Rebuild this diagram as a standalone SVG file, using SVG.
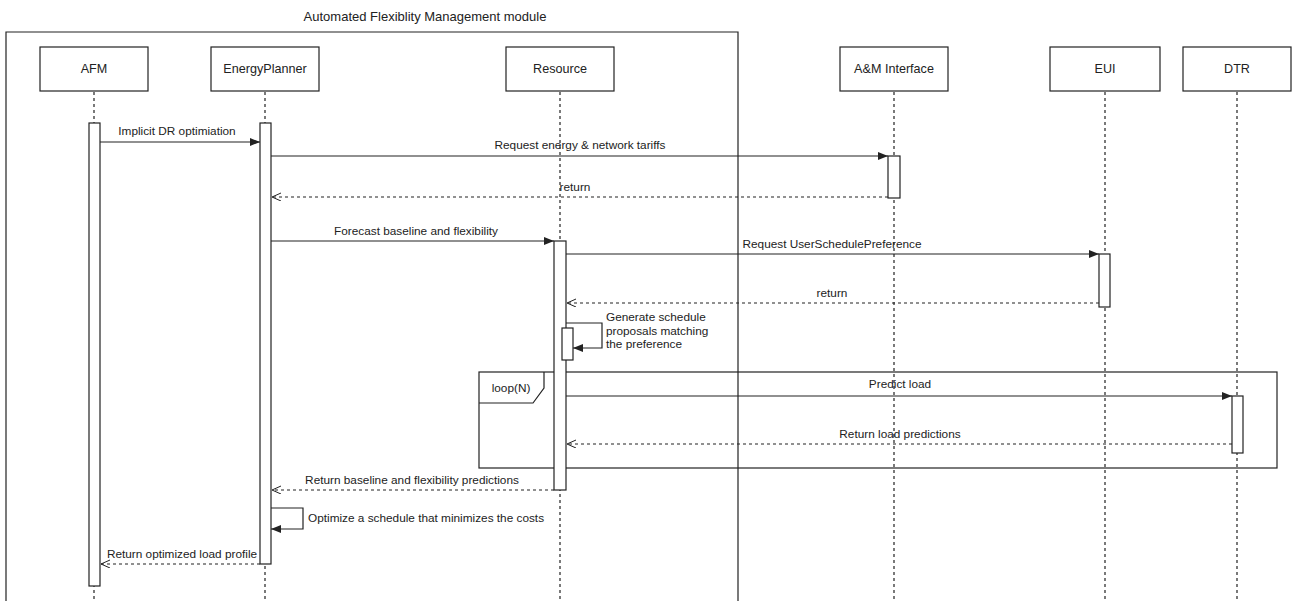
<svg xmlns="http://www.w3.org/2000/svg" width="1295" height="601" viewBox="0 0 1295 601">
  <style>
    text { font-family: "Liberation Sans", Arial, sans-serif; font-size: 11.8px; fill: #222; }
    .hdr text { font-size: 12.6px; }
    .title { font-size: 13px; }
    .box { fill: #fff; stroke: #222; stroke-width: 1.2; }
    .life { stroke: #222; stroke-width: 1.2; stroke-dasharray: 3 3; fill: none; }
    .act { fill: #fff; stroke: #222; stroke-width: 1.2; }
    .frame { fill: none; stroke: #222; stroke-width: 1.2; }
    .msg { fill: none; stroke: #222; stroke-width: 1.2; }
    .call { marker-end: url(#solidHead); }
    .ret { stroke-dasharray: 3 3; marker-end: url(#openHead); }
    .mid { text-anchor: middle; }
  </style>
  <defs>
    <marker id="solidHead" markerUnits="userSpaceOnUse" markerWidth="11" markerHeight="10" refX="10" refY="4" orient="auto">
      <path d="M0,0 L10,4 L0,8 z" fill="#222"/>
    </marker>
    <marker id="openHead" markerUnits="userSpaceOnUse" markerWidth="11" markerHeight="10" refX="9" refY="4" orient="auto">
      <path d="M0,0 L9,4 L0,8" fill="none" stroke="#222" stroke-width="1"/>
    </marker>
  </defs>

  <rect width="1295" height="601" fill="#fff"/>

  <!-- module boundary -->
  <g id="module-frame">
    <text x="425" y="21" class="mid title">Automated Flexiblity Management module</text>
    <path class="frame" d="M6,605 V32 H738 V605"/>
  </g>

  <!-- lifelines -->
  <g id="lifelines">
    <line class="life" x1="94" y1="92" x2="94" y2="601"/>
    <line class="life" x1="265" y1="92" x2="265" y2="601"/>
    <line class="life" x1="560" y1="92" x2="560" y2="601"/>
    <line class="life" x1="894" y1="92" x2="894" y2="601"/>
    <line class="life" x1="1105" y1="92" x2="1105" y2="601"/>
    <line class="life" x1="1237" y1="92" x2="1237" y2="601"/>
  </g>

  <!-- participants -->
  <g class="hdr">
    <g id="afm"><rect class="box" x="40" y="47" width="108" height="44"/><text x="94" y="73" class="mid">AFM</text></g>
    <g id="energy-planner"><rect class="box" x="211" y="47" width="108" height="44"/><text x="265" y="73" class="mid">EnergyPlanner</text></g>
    <g id="resource"><rect class="box" x="506" y="47" width="108" height="44"/><text x="560" y="73" class="mid">Resource</text></g>
    <g id="am-interface"><rect class="box" x="840" y="47" width="108" height="44"/><text x="894" y="73" class="mid">A&amp;M Interface</text></g>
    <g id="eui"><rect class="box" x="1050" y="47" width="110" height="44"/><text x="1105" y="73" class="mid">EUI</text></g>
    <g id="dtr"><rect class="box" x="1183" y="47" width="108" height="44"/><text x="1237" y="73" class="mid">DTR</text></g>
  </g>

  <!-- loop fragment -->
  <g id="loop-fragment">
    <rect class="frame" x="479" y="372" width="798" height="96"/>
    <path class="frame" d="M479,403 H533 L544,388 V372"/>
    <text x="511" y="392" class="mid">loop(N)</text>
  </g>

  <!-- activation bars -->
  <g id="activations">
    <rect class="act" x="89" y="123" width="11" height="463"/>
    <rect class="act" x="260" y="123" width="11" height="441"/>
    <rect class="act" x="888" y="156" width="12" height="42"/>
    <rect class="act" x="554" y="241" width="12" height="249"/>
    <rect class="act" x="1099" y="254" width="11" height="53"/>
    <rect class="act" x="562" y="328" width="11" height="32"/>
    <rect class="act" x="1232" y="396" width="11" height="57"/>
  </g>

  <!-- messages -->
  <g id="connectors">
    <line class="msg call" x1="100" y1="142" x2="260" y2="142"/>
    <line class="msg call" x1="271" y1="156" x2="888" y2="156"/>
    <line class="msg ret" x1="888" y1="197" x2="272" y2="197"/>
    <line class="msg call" x1="271" y1="241" x2="554" y2="241"/>
    <line class="msg call" x1="566" y1="254" x2="1099" y2="254"/>
    <line class="msg ret" x1="1099" y1="303" x2="567" y2="303"/>
    <path class="msg call" d="M566,323 H602 V348 H573"/>
    <line class="msg call" x1="566" y1="396" x2="1232" y2="396"/>
    <line class="msg ret" x1="1232" y1="444" x2="567" y2="444"/>
    <line class="msg ret" x1="554" y1="490" x2="272" y2="490"/>
    <path class="msg call" d="M271,508 H303 V529 H271"/>
    <line class="msg ret" x1="260" y1="564" x2="101" y2="564"/>
  </g>

  <!-- message labels -->
  <g id="labels">
    <text x="177" y="135" class="mid">Implicit DR optimiation</text>
    <text x="580" y="149" class="mid">Request energy &amp; network tariffs</text>
    <text x="575" y="191" class="mid">return</text>
    <text x="416" y="235" class="mid">Forecast baseline and flexibility</text>
    <text x="832" y="248" class="mid">Request UserSchedulePreference</text>
    <text x="832" y="297" class="mid">return</text>
    <text x="606" y="321">Generate schedule</text>
    <text x="606" y="335">proposals matching</text>
    <text x="606" y="348">the preference</text>
    <text x="900" y="388" class="mid">Predict load</text>
    <text x="900" y="438" class="mid">Return load predictions</text>
    <text x="412" y="484" class="mid">Return baseline and flexibility predictions</text>
    <text x="308" y="522">Optimize a schedule that minimizes the costs</text>
    <text x="182" y="558" class="mid">Return optimized load profile</text>
  </g>
</svg>
